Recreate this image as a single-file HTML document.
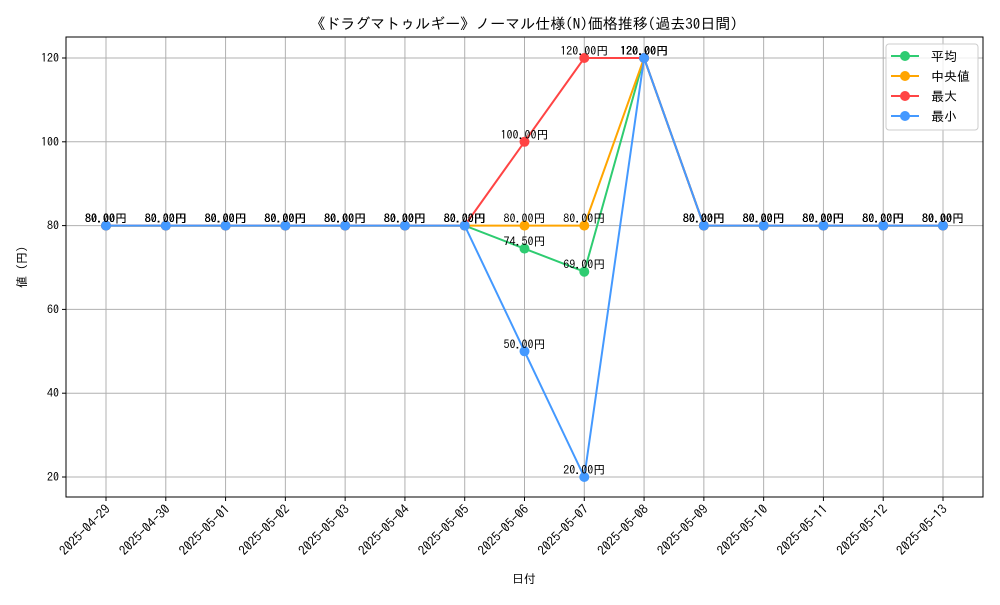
<!DOCTYPE html>
<html><head><meta charset="utf-8">
<style>
body{margin:0;background:#fff;}
svg text{font-family:"IPAGothic","Noto Sans CJK JP",sans-serif;}
</style></head>
<body>
<svg id="chart" width="1000" height="600" xmlns="http://www.w3.org/2000/svg">
<rect width="1000" height="600" fill="#fff"/>
<text x="524" y="29" font-size="15" text-anchor="middle" fill="#000">《ドラグマトゥルギー》ノーマル仕様(N)価格推移(過去30日間)</text>
<g id="grid"></g>
<g id="series"></g>
<g id="labels"></g>
<rect x="66" y="37" width="917" height="460" fill="none" stroke="#000" stroke-width="1"/>
<g id="axes"></g>
<text x="524" y="583" font-size="12" text-anchor="middle">日付</text>
<text transform="translate(26,267) rotate(-90)" font-size="12" text-anchor="middle">値 (円)</text>
<g id="legend"></g>
</svg>
<script>
const categories=["2025-04-29","2025-04-30","2025-05-01","2025-05-02","2025-05-03","2025-05-04","2025-05-05","2025-05-06","2025-05-07","2025-05-08","2025-05-09","2025-05-10","2025-05-11","2025-05-12","2025-05-13"];
const avgValues=[80,80,80,80,80,80,80,74.5,69,120,80,80,80,80,80];
const medianValues=[80,80,80,80,80,80,80,80,80,120,80,80,80,80,80];
const maxValues=[80,80,80,80,80,80,80,100,120,120,80,80,80,80,80];
const minValues=[80,80,80,80,80,80,80,50,20,120,80,80,80,80,80];
const yTicks=[20,40,60,80,100,120];
const seriesNames=["平均","中央値","最大","最小"];
const NS="http://www.w3.org/2000/svg";
const L=66,R=983,T=37,B=497;
function xs(i){return 106+i*(943-106)/(categories.length-1);}
function ys(v){return 477-(v-20)*(477-58)/100;}
function mk(tag,attrs,parent){const e=document.createElementNS(NS,tag);for(const k in attrs)e.setAttribute(k,attrs[k]);parent.appendChild(e);return e;}
const grid=document.getElementById('grid'),axes=document.getElementById('axes');
categories.forEach((c,i)=>{
 const x=xs(i);
 const g=mk('line',{x1:x,x2:x,y1:T,y2:B,stroke:'#b0b0b0','stroke-width':1},grid);
 
 mk('line',{x1:x,x2:x,y1:B,y2:B+4,stroke:'#000'},axes);
 const t=mk('text',{x:0,y:0,'font-size':13,'text-anchor':'end',transform:`translate(${x+5},${B+13}) rotate(-45)`},axes);
 t.textContent=c;
 
 
});
yTicks.forEach(v=>{
 const y=ys(v);
 const g=mk('line',{x1:L,x2:R,y1:y,y2:y,stroke:'#b0b0b0','stroke-width':1},grid);
 
 mk('line',{x1:L-4,x2:L,y1:y,y2:y,stroke:'#000'},axes);
 const t=mk('text',{x:L-7,y:y+4,'font-size':12,'text-anchor':'end'},axes);
 t.textContent=v;
 
 
});
const allSeries=[avgValues,medianValues,maxValues,minValues];
const colors=["#2ecc71","#ffa500","#ff4444","#4499ff"];
const keys=["avg","median","max","min"];
const sg=document.getElementById('series'),lg=document.getElementById('labels');
allSeries.forEach((vals,s)=>{
 const g=mk('g',{},sg);
 
 
 mk('polyline',{points:vals.map((v,i)=>xs(i)+','+ys(v)).join(' '),fill:'none',stroke:colors[s],'stroke-width':2},g);
 vals.forEach((v,i)=>{
  const c=mk('circle',{cx:xs(i),cy:ys(v),r:5,fill:colors[s]},g);
  
  
  const t=mk('text',{x:xs(i),y:ys(v)-3,'font-size':12,'text-anchor':'middle',fill:'#000'},lg);
  t.textContent=v.toFixed(2)+'円';
  
  
 });
});
const leg=document.getElementById('legend');
mk('rect',{x:886,y:44,width:92,height:86,rx:3,fill:'#fff','fill-opacity':0.8,stroke:'#ccc'},leg);
seriesNames.forEach((n,s)=>{
 const y=56+s*20;
 const e=mk('g',{},leg);
 
 
 mk('line',{x1:891,x2:919,y1:y,y2:y,stroke:colors[s],'stroke-width':2},e);
 mk('circle',{cx:905,cy:y,r:5,fill:colors[s]},e);
 const t=mk('text',{x:931,y:y+5,'font-size':13},e);
 t.textContent=(s===1?' ':'')+n;
});
</script>
</body></html>
